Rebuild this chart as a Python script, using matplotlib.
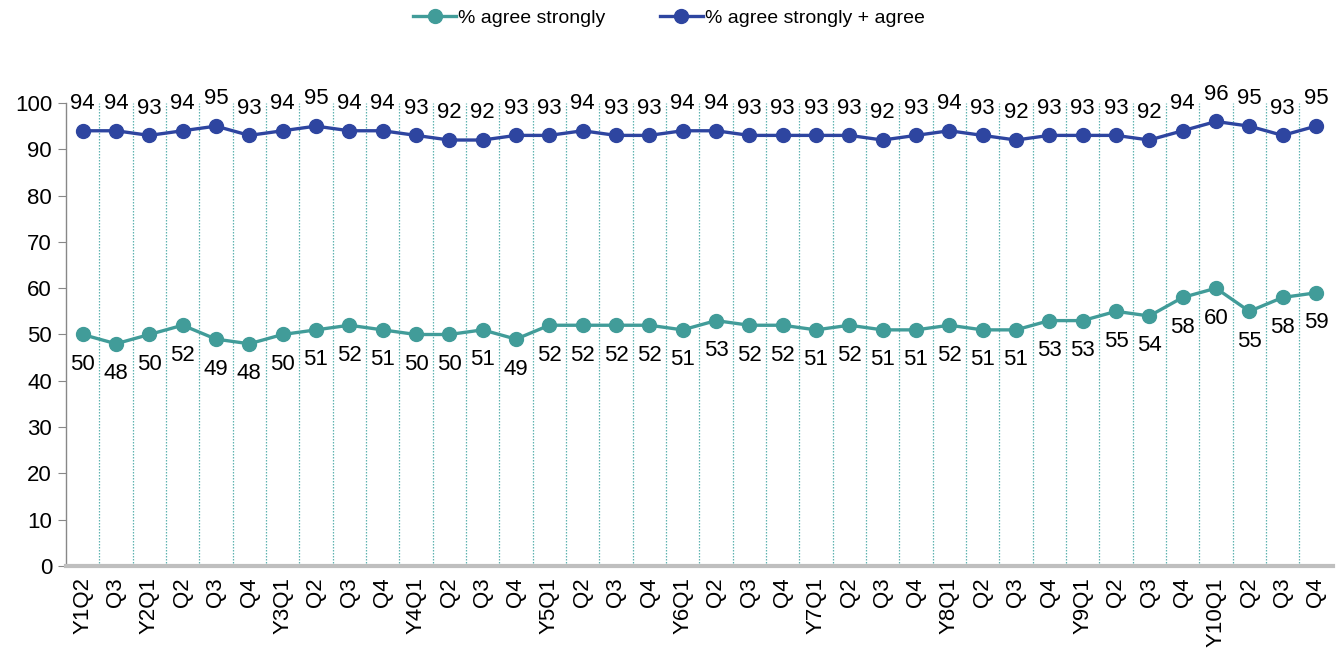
import matplotlib
matplotlib.use("Agg")
import matplotlib.pyplot as plt

plt.rcParams['font.family'] = ['Liberation Sans', 'DejaVu Sans']

# categorias del eje x
quarters = ["Y1Q2", "Q3",
            "Y2Q1", "Q2", "Q3", "Q4",
            "Y3Q1", "Q2", "Q3", "Q4",
            "Y4Q1", "Q2", "Q3", "Q4",
            "Y5Q1", "Q2", "Q3", "Q4",
            "Y6Q1", "Q2", "Q3", "Q4",
            "Y7Q1", "Q2", "Q3", "Q4",
            "Y8Q1", "Q2", "Q3", "Q4",
            "Y9Q1", "Q2", "Q3", "Q4",
            "Y10Q1", "Q2", "Q3", "Q4"]

agree_strongly = [50, 48, 50, 52, 49, 48, 50, 51, 52, 51, 50, 50, 51, 49, 52, 52,
                  52, 52, 51, 53, 52, 52, 51, 52, 51, 51, 52, 51, 51, 53, 53, 55,
                  54, 58, 60, 55, 58, 59]
agree_total = [94, 94, 93, 94, 95, 93, 94, 95, 94, 94, 93, 92, 92, 93, 93, 94,
               93, 93, 94, 94, 93, 93, 93, 93, 92, 93, 94, 93, 92, 93, 93, 93,
               92, 94, 96, 95, 93, 95]

teal = "#419C99"
blue = "#2E45A0"

fig = plt.figure(figsize=(13.38, 6.53), dpi=100)
ax = fig.add_axes([0.0493, 0.1332, 0.9467, 0.7091])

x = list(range(len(quarters)))
ax.plot(x, agree_strongly, color=teal, lw=2.4, marker='o', ms=10,
        label="% agree strongly")
ax.plot(x, agree_total, color=blue, lw=2.4, marker='o', ms=10,
        label="% agree strongly + agree")

for i, v in enumerate(agree_strongly):
    ax.annotate(str(v), (i, v), xytext=(0, -14), textcoords="offset points",
                ha='center', va='top', fontsize=16, color="black")
for i, v in enumerate(agree_total):
    ax.annotate(str(v), (i, v), xytext=(0, 12), textcoords="offset points",
                ha='center', va='bottom', fontsize=16, color="black")

# lineas verticales punteadas entre categorias
for b in range(1, len(quarters)):
    ax.axvline(b - 0.5, color="#5FB3B0", lw=0.9, ls=(0, (1.2, 1.2)), zorder=0)

ax.set_xlim(-0.5, len(quarters) - 0.5)
ax.set_ylim(0, 100)
ax.set_yticks(range(0, 101, 10))
ax.set_xticks(x)
ax.set_xticklabels(quarters, rotation=90, fontsize=16)
ax.tick_params(axis='y', labelsize=16, length=6, color="#888888", pad=4)
ax.tick_params(axis='x', length=0, pad=8)

for s in ['top', 'right']:
    ax.spines[s].set_visible(False)
ax.spines['left'].set_color("#888888")
ax.spines['left'].set_linewidth(1.0)
ax.spines['bottom'].set_color("#BFBFBF")
ax.spines['bottom'].set_linewidth(3)

fig.legend(loc='upper center', bbox_to_anchor=(0.5, 1.012), ncol=2, frameon=False,
           fontsize=14, handlelength=2.2, handletextpad=0.1, columnspacing=2.8)

fig.savefig("out.png", dpi=100)
